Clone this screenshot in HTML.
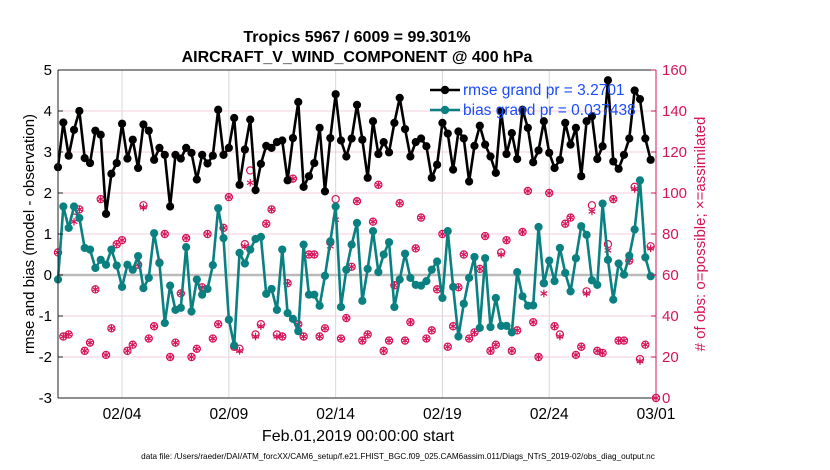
<!DOCTYPE html>
<html><head><meta charset="utf-8"><style>
html,body{margin:0;padding:0;background:#fff;}
svg{display:block;font-family:"Liberation Sans",sans-serif;}
</style></head><body>
<svg id="chart" width="830" height="470" viewBox="0 0 830 470">
<g id="grid"></g>
<g id="series"></g>
<g id="axes"></g>
<text x="357" y="42" text-anchor="middle" font-weight="bold" font-size="16">Tropics 5967 / 6009 = 99.301%</text>
<text x="357" y="62" text-anchor="middle" font-weight="bold" font-size="16">AIRCRAFT_V_WIND_COMPONENT @ 400 hPa</text>
<text x="358" y="441" text-anchor="middle" font-size="16">Feb.01,2019 00:00:00 start</text>
<text x="398" y="459" text-anchor="middle" font-size="8.2">data file: /Users/raeder/DAI/ATM_forcXX/CAM6_setup/f.e21.FHIST_BGC.f09_025.CAM6assim.011/Diags_NTrS_2019-02/obs_diag_output.nc</text>
<text transform="translate(34,234) rotate(-90)" text-anchor="middle" font-size="15">rmse and bias (model - observation)</text>
<text transform="translate(705,234) rotate(-90)" text-anchor="middle" font-size="15" fill="#d6145a"># of obs: o=possible; ×=assimilated</text>
<g>
<line x1="430" y1="90" x2="460" y2="90" stroke="#000" stroke-width="2.5"/>
<circle cx="445" cy="90" r="4.2" fill="#000"/>
<text x="463" y="95" font-size="15.5" fill="#1a4cff">rmse grand pr = 3.2701</text>
<line x1="430" y1="110" x2="460" y2="110" stroke="#0a8080" stroke-width="2.5"/>
<circle cx="445" cy="110" r="4.2" fill="#0a8080"/>
<text x="463" y="115" font-size="15.5" fill="#1a4cff">bias grand pr = 0.037438</text>
</g>
</svg>
<script>
const rmse=[2.63,3.72,2.91,3.54,4.0,2.85,2.73,3.52,3.42,1.49,2.47,2.73,3.69,2.84,3.3,2.61,3.67,3.52,2.81,3.1,2.93,1.67,2.93,2.84,3.1,2.98,2.33,2.93,2.72,2.91,4.03,2.93,3.1,3.83,2.2,3.06,3.79,2.07,2.71,3.15,3.1,3.24,3.28,2.31,3.34,4.22,2.15,2.41,2.73,3.59,2.04,3.34,4.41,3.28,2.89,3.33,4.15,3.3,2.37,3.75,2.95,3.24,2.99,3.71,4.32,3.56,2.89,3.24,3.33,3.14,2.37,2.69,3.71,3.45,2.57,3.5,3.33,2.28,3.15,3.64,3.18,2.89,2.49,3.99,2.95,3.46,2.83,4.03,3.59,2.75,3.04,3.75,2.98,2.61,2.81,3.71,3.18,3.59,2.41,3.75,3.87,2.83,3.14,4.75,2.77,2.59,2.93,3.33,4.5,4.29,3.33,2.81];
const bias=[-0.11,1.67,1.15,1.67,1.39,0.66,0.62,0.17,0.37,0.25,0.62,0.23,-0.29,0.25,0.13,0.46,-0.32,-0.07,1.02,0.29,-1.17,-0.26,-0.85,-0.8,0.68,-0.89,-0.11,-0.48,-0.34,0.24,1.63,0.9,-1.09,-1.72,0.54,0.28,0.62,0.88,0.93,-0.46,-0.34,-0.85,0.62,-0.93,-1.07,-1.37,0.74,-0.48,-0.48,-0.75,-0.02,0.82,1.67,-0.78,0.13,0.74,1.27,-0.63,0.15,1.07,0.07,0.5,0.8,-0.78,-0.11,0.52,-0.07,-0.24,-0.26,-0.15,0.13,0.33,-0.56,1.07,-0.29,-1.5,-0.7,-0.07,0.44,-1.29,0.41,-1.27,-0.56,-1.24,-1.24,-1.4,0.07,-0.52,-0.75,-0.74,1.17,-0.2,0.35,-0.15,0.66,0.05,-0.4,0.41,1.19,0.98,-0.13,-0.24,1.74,0.37,-0.6,0.28,0.01,0.47,1.11,2.31,0.43,-0.03];
const nPossible=[71,30,31,88,92,23,27,53,97,21,34,75,77,23,26,65,94,29,35,66,80,20,27,51,78,20,24,54,80,29,36,83,98,25,24,75,111,31,36,85,92,31,30,56,107,36,30,70,70,30,34,76,97,29,39,64,96,28,31,86,104,23,28,55,95,28,37,73,88,29,33,53,80,25,35,54,70,29,32,63,79,23,26,71,77,23,33,81,101,37,20,56,100,35,31,85,88,21,25,52,94,23,22,75,97,28,28,67,103,19,26,74,0];
const nAssim=[71,30,31,86,92,23,27,53,97,21,34,75,77,23,26,65,93,29,35,66,80,20,27,51,78,20,24,54,80,29,36,83,98,25,23,74,105,30,35,85,92,30,30,56,107,36,30,70,70,30,34,74,87,29,39,64,96,28,31,86,104,23,28,55,95,28,37,73,88,29,33,53,80,25,35,54,70,29,32,63,79,23,26,70,77,23,33,81,101,37,20,51,100,35,30,85,88,21,25,51,91,23,22,72,97,28,28,67,102,18,26,73,0];
const xTickDays=[3,8,13,18,23,28];
const xTickLabels=["02/04","02/09","02/14","02/19","02/24","03/01"];
const yTicks=[-3,-2,-1,0,1,2,3,4,5];
const y2Ticks=[0,20,40,60,80,100,120,140,160];

const L=58,R=656,T=70,B=398,NS="http://www.w3.org/2000/svg";
const xs=i=>L+(i*0.25)/28*(R-L);
const xd=d=>L+d/28*(R-L);
const ys=v=>B-(v+3)/8*(B-T);
const ys2=c=>B-c/160*(B-T);
function mk(p,tag,a){const e=document.createElementNS(NS,tag);for(const k in a)e.setAttribute(k,a[k]);p.appendChild(e);return e;}
const grid=document.getElementById('grid'),ser=document.getElementById('series'),ax=document.getElementById('axes');
yTicks.forEach(v=>{if(v>-3&&v<5&&v!==0){const l=mk(grid,'line',{x1:L,x2:R,y1:ys(v),y2:ys(v),stroke:'#f4cddc','stroke-width':1});

}});
xTickDays.forEach(d=>{const l=mk(grid,'line',{x1:xd(d),x2:xd(d),y1:T,y2:B,stroke:'#d8d8d8','stroke-width':1});

});
const zl=mk(grid,'line',{x1:L,x2:R,y1:ys(0),y2:ys(0),stroke:'#bbbbbb','stroke-width':2.5});



function star(g,cx,cy,r,col){for(let k=0;k<3;k++){const a=k*Math.PI/3+Math.PI/2;const l=mk(g,'line',{x1:cx-r*Math.cos(a),y1:cy-r*Math.sin(a),x2:cx+r*Math.cos(a),y2:cy+r*Math.sin(a),stroke:col,'stroke-width':1.2});

}}
nPossible.forEach((c,i)=>{const g=mk(ser,'circle',{cx:xs(i),cy:ys2(c),r:3.6,fill:'none',stroke:'#d6145a','stroke-width':1.2});

});
const sg=mk(ser,'g',{});


nAssim.forEach((c,i)=>star(sg,xs(i),ys2(c),3.8,'#d6145a'));

function line(data,col,name){
const pl=mk(ser,'polyline',{points:data.map((v,i)=>xs(i)+','+ys(v)).join(' '),fill:'none',stroke:col,'stroke-width':2.6,'stroke-linejoin':'round'});


data.forEach((v,i)=>{const c=mk(ser,'circle',{cx:xs(i),cy:ys(v),r:4.1,fill:col});

});}
line(bias,'#0a8080','bias');
line(rmse,'#000000','rmse');

const fr=[[L,T,R,T,'#222'],[L,T,L,B,'#222'],[L,B,R,B,'#222'],[R,T,R,B,'#d6145a']];
fr.forEach(f=>{const l=mk(ax,'line',{x1:f[0],y1:f[1],x2:f[2],y2:f[3],stroke:f[4],'stroke-width':1});

});
yTicks.forEach(v=>{const t=mk(ax,'text',{x:L-6,y:ys(v)+5,'text-anchor':'end','font-size':15});t.textContent=v;


const k=mk(ax,'line',{x1:L,x2:L+5,y1:ys(v),y2:ys(v),stroke:'#222'});

});
y2Ticks.forEach(v=>{const t=mk(ax,'text',{x:R+6,y:ys2(v)+5,'font-size':15,fill:'#d6145a'});t.textContent=v;


const k=mk(ax,'line',{x1:R-5,x2:R,y1:ys2(v),y2:ys2(v),stroke:'#d6145a'});

});
xTickDays.forEach((d,i)=>{const t=mk(ax,'text',{x:xd(d),y:419,'text-anchor':'middle','font-size':15.5});t.textContent=xTickLabels[i];

});
</script>
</body></html>
